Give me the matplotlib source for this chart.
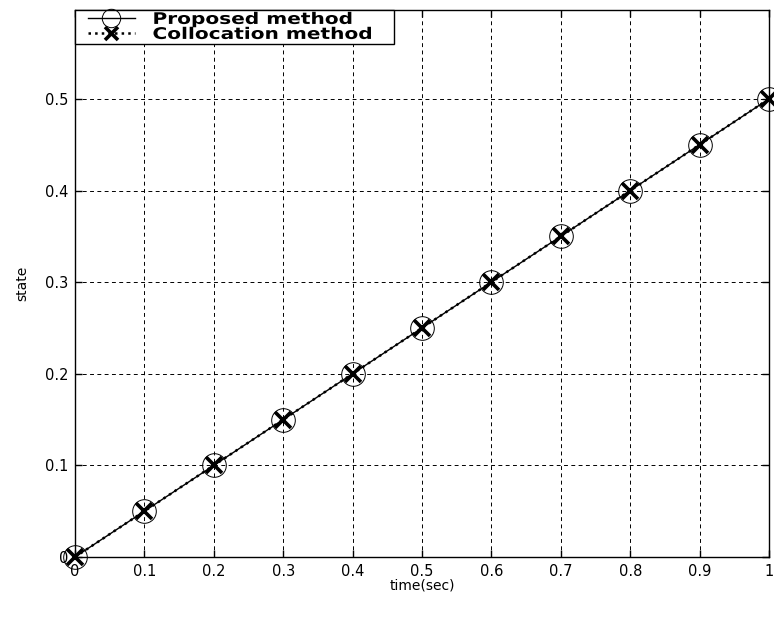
import matplotlib
matplotlib.use("Agg")
import matplotlib.pyplot as plt
from matplotlib.patheffects import AbstractPathEffect
from matplotlib.transforms import Affine2D
from matplotlib.legend_handler import HandlerLine2D

time = [0.0, 0.1, 0.2, 0.3, 0.4, 0.5, 0.6, 0.7, 0.8, 0.9, 1.0]
proposed = [0.0, 0.05, 0.10, 0.15, 0.20, 0.25, 0.30, 0.35, 0.40, 0.45, 0.50]
collocation = [0.0, 0.05, 0.10, 0.15, 0.20, 0.25, 0.30, 0.35, 0.40, 0.45, 0.50]
xticks = [0, 0.1, 0.2, 0.3, 0.4, 0.5, 0.6, 0.7, 0.8, 0.9, 1]
xticklabels = ["0", "0.1", "0.2", "0.3", "0.4", "0.5", "0.6", "0.7", "0.8", "0.9", "1"]
yticks = [0, 0.1, 0.2, 0.3, 0.4, 0.5]
yticklabels = ["0", "0.1", "0.2", "0.3", "0.4", "0.5"]


class HStretch(AbstractPathEffect):
    """Stretch text horizontally about its own left edge."""
    def __init__(self, sx):
        super().__init__()
        self.sx = sx

    def draw_path(self, renderer, gc, tpath, affine, rgbFace=None):
        x0 = affine.get_matrix()[0, 2]
        extra = Affine2D().translate(-x0, 0).scale(self.sx, 1).translate(x0, 0)
        renderer.draw_path(gc, tpath, affine + extra, rgbFace)


plt.rcParams['font.family'] = ['DejaVu Sans']
fig = plt.figure(figsize=(7.74, 6.17), dpi=100)
ax = fig.add_axes([75/774, 60/617, 694/774, 547/617])

l1, = ax.plot(time, proposed, '-', color='black', lw=1.0, marker='o', ms=17,
              mfc='none', mec='black', mew=0.7, label='Proposed method', clip_on=False, zorder=3)
l2, = ax.plot(time, collocation, ':', color='black', lw=1.8, marker='x', ms=12,
              mec='black', mew=2.6, label='Collocation method', clip_on=False, zorder=4)

ax.set_xlim(0, 1)
ax.set_ylim(0, 0.597)
ax.set_xticks(xticks)
ax.set_xticklabels(xticklabels)
ax.set_yticks(yticks)
ax.set_yticklabels(yticklabels)
ax.grid(True, linestyle=(0, (4, 3.5)), color='black', lw=0.7)
ax.tick_params(direction='in', top=True, right=True, length=5, width=1, labelsize=10.5, pad=5)
for s in ax.spines.values():
    s.set_linewidth(1.0)

ax.set_xlabel('time(sec)', fontsize=10, labelpad=0)
ax.set_ylabel('state', fontsize=10, labelpad=11)

leg = ax.legend(loc='upper left', bbox_to_anchor=(0, 0.9, 319/694, 0.1), mode='expand',
                borderaxespad=0, fancybox=False, framealpha=1, edgecolor='black',
                prop={'family': 'DejaVu Sans', 'weight': 'bold', 'size': 11.5},
                handlelength=3.63, handletextpad=1.1, borderpad=0.12, labelspacing=0.0,
                markerscale=0.78,
                handler_map={l1: HandlerLine2D(xpad=0.69), l2: HandlerLine2D(xpad=0.69)})
leg.get_frame().set_linewidth(1.0)
for t in leg.get_texts():
    t.set_path_effects([HStretch(1.26)])

fig.savefig('out.png', dpi=100)
